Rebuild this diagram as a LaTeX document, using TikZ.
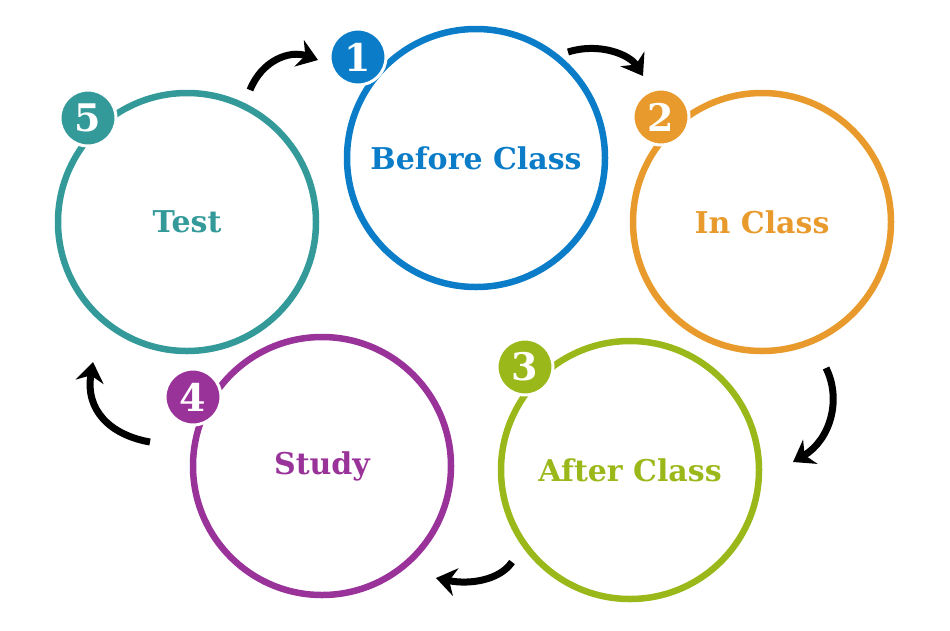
\documentclass[tikz,border=0pt]{standalone}
\usepackage{fontspec}
\setmainfont{DejaVu Serif}
\usetikzlibrary{arrows.meta}
\definecolor{cblue}{HTML}{0A7CC8}
\definecolor{corange}{HTML}{E89A2C}
\definecolor{cgreen}{HTML}{9BB81B}
\definecolor{cpurple}{HTML}{993399}
\definecolor{cteal}{HTML}{339999}
\tikzset{
  ring/.style={circle,draw=#1,line width=6.5pt,minimum size=258pt,inner sep=0pt,text=#1,font=\fontsize{30}{32}\selectfont\bfseries},
  badge/.style={circle,fill=#1,draw=white,line width=3pt,minimum size=56pt,inner sep=0pt,text=white,font=\fontsize{38}{40}\selectfont\bfseries},
  flow/.style={line width=7pt,-{Stealth[length=20pt,width=28pt]},black}
}
\begin{document}
\begin{tikzpicture}[x=1pt,y=-1pt]
\useasboundingbox (0,0) rectangle (950,630);
\node[ring=cblue] (c1) at (476,158) {Before Class};
\node[ring=corange] (c2) at (762,222) {In Class};
\node[ring=cgreen] (c3) at (630,470) {After Class};
\node[ring=cpurple] (c4) at (322,466) {Study};
\node[ring=cteal] (c5) at (187,222) {Test};
\node[badge=cblue] (b1) at (358,57) {1};
\node[badge=corange] (b2) at (661,117) {2};
\node[badge=cgreen] (b3) at (525,367) {3};
\node[badge=cpurple] (b4) at (193,397) {4};
\node[badge=cteal] (b5) at (88,118) {5};
\coordinate (a1s) at (250,90); \coordinate (a1e) at (318,60);
\coordinate (a2s) at (568,52); \coordinate (a2e) at (643,76);
\coordinate (a3s) at (826,368); \coordinate (a3e) at (793,462);
\coordinate (a4s) at (512,562); \coordinate (a4e) at (436,578);
\coordinate (a5s) at (150,442); \coordinate (a5e) at (93,362);
\draw[flow] (a1s) .. controls (262,60) and (290,50) .. (a1e);
\draw[flow] (a2s) .. controls (600,42) and (630,55) .. (a2e);
\draw[flow] (a3s) .. controls (842,400) and (830,440) .. (a3e);
\draw[flow] (a4s) .. controls (500,580) and (470,585) .. (a4e);
\draw[flow] (a5s) .. controls (110,435) and (85,410) .. (a5e);
\end{tikzpicture}
\end{document}
